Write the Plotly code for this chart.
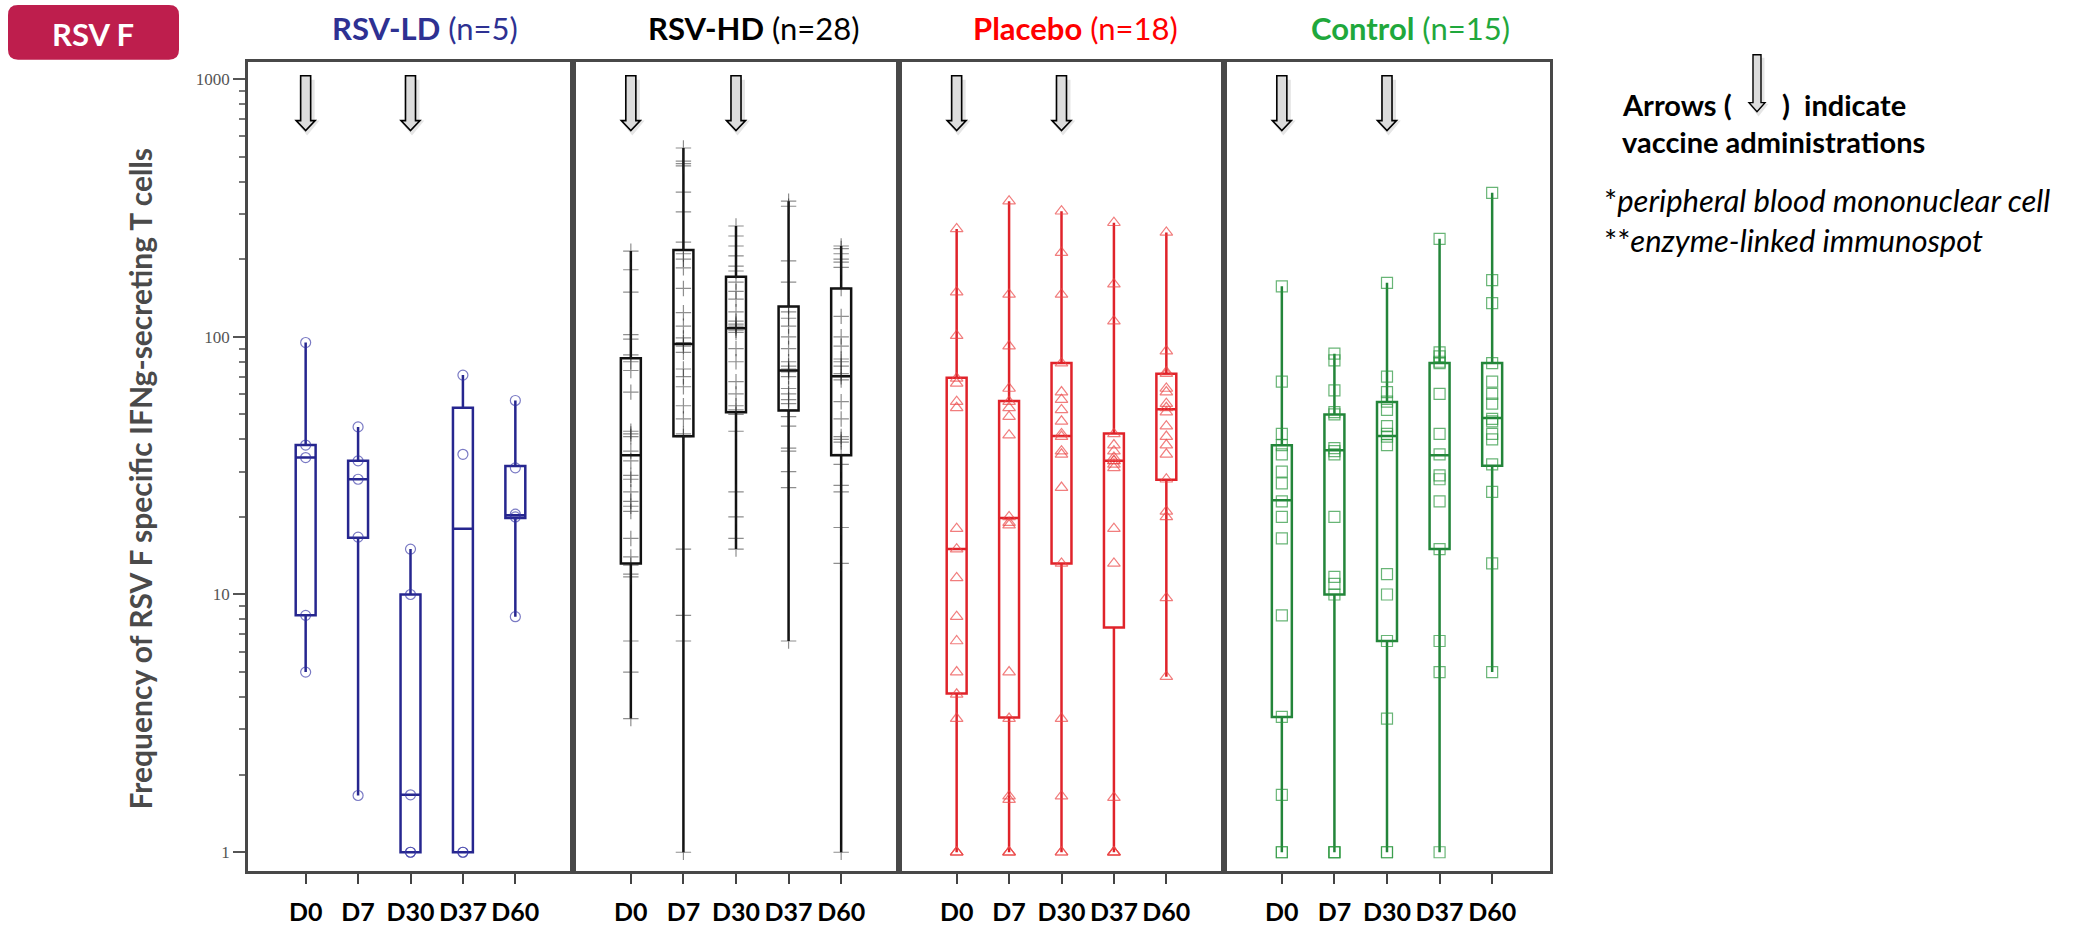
import plotly.graph_objects as go

W, H = 2085, 926

# ---------------- data ----------------
DAYS = ["D0", "D7", "D30", "D37", "D60"]
X_POS = [0, 1, 2, 3, 4]
Y_TICKS = [1, 10, 100, 1000]
Y_TICK_TEXT = ["1", "10", "100", "1000"]

GROUP_NAMES = ["RSV-LD", "RSV-HD", "Placebo", "Control"]
GROUP_N = [5, 28, 18, 15]

# RSV-LD (n=5)
LD_POINTS = [
    [95, 38, 34, 8.3, 5.0],
    [44.7, 33, 28, 16.7, 1.66],
    [15, 10, 1.67, 1, 1],
    [71, 35, 1, 1],
    [56.6, 31, 20.5, 20, 8.2],
]
LD_Q1 = [8.3, 16.6, 1.0, 1.0, 19.8]
LD_MED = [34, 28, 1.67, 18, 20.3]
LD_Q3 = [38, 33, 10, 53, 31.5]

# RSV-HD (n=28)
HD_POINTS = [
    [215, 182, 149, 102, 98, 85, 80, 74, 61, 43, 42, 41, 36, 33, 29, 28, 25, 23, 22, 21, 16.5, 14, 13, 12, 11.7, 6.6, 5, 3.3],
    [540, 480, 470, 460, 364, 305, 233, 210, 200, 185, 154, 124, 110, 99, 95, 92, 87, 75, 70, 64, 54, 48, 42, 41, 15, 8.3, 6.6, 1],
    [269, 246, 225, 206, 188, 180, 163, 150, 140, 125, 115, 112, 110, 108, 106, 104, 90, 80, 67, 60, 54, 52, 50, 43, 25, 20, 16.5, 15],
    [336, 321, 197, 163, 131, 125, 118, 110, 100, 90, 80, 77, 75, 74, 73, 70, 63, 60, 57, 55, 52, 49, 45, 37, 36, 30, 26, 6.6],
    [225, 220, 210, 200, 195, 186, 154, 120, 100, 92, 82, 80, 77, 72, 70, 68, 56, 48, 41, 40, 39, 35, 32, 26.5, 25, 18.2, 13.2, 1],
]
HD_Q1 = [13.2, 41.1, 51, 51.8, 34.7]
HD_MED = [34.7, 93.8, 108, 74, 70.3]
HD_Q3 = [82.6, 217, 171, 131, 154]

# Placebo (n=18)
PL_POINTS = [
    [262, 149, 101, 69, 66, 56, 53, 18, 15, 11.6, 8.2, 6.6, 5, 4.1, 3.3, 1, 1, 1],
    [336, 146, 92, 63, 56, 53, 49, 41.5, 20, 19, 18.6, 5, 3.3, 1.65, 1.6, 1, 1, 1],
    [307, 212, 146, 79, 61, 57, 52, 47, 42, 41, 36, 35, 26, 13.2, 3.3, 1.65, 1, 1],
    [277, 160, 115, 42, 38, 36, 34, 33, 33, 32, 31, 18, 13.2, 1.63, 1, 1, 1, 1],
    [254, 88, 73, 72, 63, 61, 55, 53, 51, 45, 41, 38, 35, 28, 21, 20, 9.7, 4.8],
]
PL_Q1 = [4.13, 3.33, 13.2, 7.45, 27.9]
PL_MED = [15, 19.8, 41.2, 33, 52.3]
PL_Q3 = [69.3, 56.3, 79.2, 42.1, 71.8]

# Control (n=15)
CT_POINTS = [
    [157, 67, 42, 38, 35, 30, 27, 23, 20, 16.5, 8.3, 3.35, 1.67, 1, 1],
    [86, 81, 62, 51, 50, 37, 36, 35, 20, 11.7, 11, 10, 1, 1, 1],
    [162, 70, 61, 56, 52, 45, 42, 41, 38, 12, 10, 6.6, 3.3, 1, 1],
    [240, 87, 84, 80, 79, 60, 42, 35, 29, 28, 23, 15, 6.6, 5, 1],
    [362, 166, 135, 79, 67, 60, 55, 48, 47, 42, 40, 32, 25, 13.2, 5],
]
CT_Q1 = [3.35, 10, 6.6, 15, 31.6]
CT_MED = [23.2, 36.3, 41.2, 34.7, 48.4]
CT_Q3 = [37.9, 49.9, 55.8, 79.2, 79.2]

ARROW_DAYS = [0, 2]   # vaccine administrations at D0 and D30

# ---------------- styling ----------------
FONT = "Lato"
TITLE_COLORS = ["#2E3192", "#000000", "#FF0000", "#1FA83C"]
BOX_COLORS = ["#26268f", "#111111", "#e0232a", "#23853a"]
MARK_COLORS = ["rgba(50,50,165,0.65)", "rgba(30,30,30,0.5)",
               "rgba(235,70,70,0.7)", "rgba(40,150,60,0.7)"]
SYMBOLS = ["circle-open", "cross-thin-open", "triangle-up-open", "square-open"]
SIZES = [10, 11, 11, 11]

PANEL_EDGES = [248, 573, 899, 1224, 1550]   # px
PLOT_TOP, PLOT_BOT = 62.5, 874               # px
X_RANGE = [-1.1, 5.1]
Y_RANGE = [-0.0735, 3.065]


def px(x):
    return x / W


def py(y):
    return 1 - y / H


groups = [
    (LD_POINTS, LD_Q1, LD_MED, LD_Q3),
    (HD_POINTS, HD_Q1, HD_MED, HD_Q3),
    (PL_POINTS, PL_Q1, PL_MED, PL_Q3),
    (CT_POINTS, CT_Q1, CT_MED, CT_Q3),
]

fig = go.Figure()
layout = dict(
    width=W, height=H, margin=dict(l=0, r=0, t=0, b=0),
    paper_bgcolor="white", plot_bgcolor="white", showlegend=False,
)

minor_vals = [m * 10 ** d for d in range(3) for m in range(2, 10)]

for i, (pts, q1, med, q3) in enumerate(groups):
    sfx = "" if i == 0 else str(i + 1)
    xa, ya = "x" + sfx, "y" + sfx
    fig.add_trace(go.Box(
        x=X_POS, q1=q1, median=med, q3=q3,
        lowerfence=[min(p) for p in pts], upperfence=[max(p) for p in pts],
        width=0.38, whiskerwidth=0, boxpoints=False,
        line=dict(color=BOX_COLORS[i], width=2.5),
        fillcolor="rgba(0,0,0,0)", xaxis=xa, yaxis=ya, hoverinfo="skip",
    ))
    xs, ys = [], []
    for k, p in enumerate(pts):
        xs += [X_POS[k]] * len(p)
        ys += p
    fig.add_trace(go.Scatter(
        x=xs, y=ys, mode="markers", xaxis=xa, yaxis=ya,
        marker=dict(symbol=SYMBOLS[i], size=SIZES[i], color=MARK_COLORS[i],
                    line=dict(width=1.2, color=MARK_COLORS[i])),
        hoverinfo="skip",
    ))

    xaxis = dict(
        domain=[px(PANEL_EDGES[i]), px(PANEL_EDGES[i + 1])], range=X_RANGE,
        anchor=ya, showline=True, mirror=True, linecolor="#484848", linewidth=2.5,
        ticks="outside", ticklen=10, tickwidth=2, tickcolor="#444",
        tickvals=X_POS, ticktext=DAYS, ticklabelstandoff=7,
        tickfont=dict(family=FONT, size=25, color="black", weight="bold"),
        showgrid=False, zeroline=False, fixedrange=True,
    )
    yaxis = dict(
        domain=[py(PLOT_BOT), py(PLOT_TOP)], type="log", range=Y_RANGE,
        anchor=xa, showline=True, mirror=True, linecolor="#484848", linewidth=2.5,
        showgrid=False, zeroline=False, fixedrange=True,
    )
    if i == 0:
        yaxis.update(
            ticks="outside", ticklen=12, tickwidth=2, tickcolor="#555",
            tickvals=Y_TICKS, ticktext=Y_TICK_TEXT,
            tickfont=dict(family="Liberation Serif", size=17, color="#555"),
            minor=dict(tickvals=minor_vals, ticks="outside", ticklen=6,
                       tickwidth=2, tickcolor="#777"),
        )
    else:
        yaxis.update(showticklabels=False, ticks="")
    layout["xaxis" + sfx] = xaxis
    layout["yaxis" + sfx] = yaxis

fig.update_layout(**layout)

shapes = []
annotations = []


def arrow_path(xc, half_shaft, half_head, top, base, tip, xfun, dx=0.0, dy=0.0):
    pts = [
        (xc - half_shaft, top), (xc + half_shaft, top), (xc + half_shaft, base),
        (xc + half_head, base), (xc, tip), (xc - half_head, base),
        (xc - half_shaft, base),
    ]
    return "M " + " L ".join(f"{xfun(a) + dx},{py(b) + dy}" for a, b in pts) + " Z"


# vaccine-administration arrows in every panel
unit_px = (PANEL_EDGES[1] - PANEL_EDGES[0]) / (X_RANGE[1] - X_RANGE[0])
for i in range(4):
    sfx = "" if i == 0 else str(i + 1)
    for d in ARROW_DAYS:
        ident = lambda v: v
        hs, hh = 5 / unit_px, 9.5 / unit_px
        shapes.append(dict(type="path", xref="x" + sfx, yref="paper",
                           path=arrow_path(X_POS[d], hs * 1.5, hh * 1.3, 80, 121, 136, ident,
                                           dx=1.5 / unit_px),
                           fillcolor="rgba(0,0,0,0.10)", line=dict(width=0)))
        shapes.append(dict(type="path", xref="x" + sfx, yref="paper",
                           path=arrow_path(X_POS[d], hs, hh, 76, 121, 131, ident),
                           fillcolor="#dcdcdc", line=dict(color="black", width=1.6)))

# legend arrow
shapes.append(dict(type="path", xref="paper", yref="paper",
                   path=arrow_path(1757, 6, 10, 58, 104, 117, px, dx=px(1.5)),
                   fillcolor="rgba(0,0,0,0.10)", line=dict(width=0)))
shapes.append(dict(type="path", xref="paper", yref="paper",
                   path=arrow_path(1757, 4, 8, 55, 103, 112, px),
                   fillcolor="#dcdcdc", line=dict(color="black", width=1.4)))

# RSV F badge (rounded rectangle)
bx0, bx1, by0, by1, r = 8, 179, 5, 60, 10
badge = (
    f"M {px(bx0 + r)},{py(by0)} L {px(bx1 - r)},{py(by0)} "
    f"Q {px(bx1)},{py(by0)} {px(bx1)},{py(by0 + r)} "
    f"L {px(bx1)},{py(by1 - r)} Q {px(bx1)},{py(by1)} {px(bx1 - r)},{py(by1)} "
    f"L {px(bx0 + r)},{py(by1)} Q {px(bx0)},{py(by1)} {px(bx0)},{py(by1 - r)} "
    f"L {px(bx0)},{py(by0 + r)} Q {px(bx0)},{py(by0)} {px(bx0 + r)},{py(by0)} Z"
)
shapes.append(dict(type="path", xref="paper", yref="paper", path=badge,
                   fillcolor="#BE1E4D", line=dict(width=0)))
annotations.append(dict(text="<b>RSV F</b>", x=px(93), y=py(34), xref="paper", yref="paper",
                        showarrow=False, xanchor="center", yanchor="middle",
                        font=dict(family=FONT, size=31, color="white")))

# panel titles
TITLE_X = [425, 754, 1075, 1410]
for i in range(4):
    annotations.append(dict(
        text=f"<b>{GROUP_NAMES[i]}</b> (n={GROUP_N[i]})",
        x=px(TITLE_X[i]), y=py(28), xref="paper", yref="paper",
        showarrow=False, xanchor="center", yanchor="middle",
        font=dict(family=FONT, size=31, color=TITLE_COLORS[i])))

# y-axis title
annotations.append(dict(
    text="<b>Frequency of RSV F specific IFNg-secreting T cells</b>",
    x=px(140), y=py(480), xref="paper", yref="paper", textangle=-90,
    showarrow=False, xanchor="center", yanchor="middle",
    font=dict(family=FONT, size=30, color="#4a4a4a")))

# right-hand notes
annotations.append(dict(text="<b>Arrows (</b>", x=px(1620), y=py(105), xref="paper", yref="paper",
                        showarrow=False, xanchor="left", yanchor="middle",
                        font=dict(family=FONT, size=29, color="black")))
annotations.append(dict(text="<b>)  indicate</b>", x=px(1780), y=py(105), xref="paper", yref="paper",
                        showarrow=False, xanchor="left", yanchor="middle",
                        font=dict(family=FONT, size=29, color="black")))
annotations.append(dict(text="<b>vaccine administrations</b>", x=px(1620), y=py(142),
                        xref="paper", yref="paper", showarrow=False, xanchor="left",
                        yanchor="middle", font=dict(family=FONT, size=29, color="black")))
annotations.append(dict(text="*<i>peripheral blood mononuclear cell</i><br>**<i>enzyme-linked immunospot</i>",
                        x=px(1602), y=py(221), align="left",
                        xref="paper", yref="paper", showarrow=False, xanchor="left",
                        yanchor="middle", font=dict(family=FONT, size=31, color="black")))

fig.update_layout(shapes=shapes, annotations=annotations)
fig.write_html("out.html")
